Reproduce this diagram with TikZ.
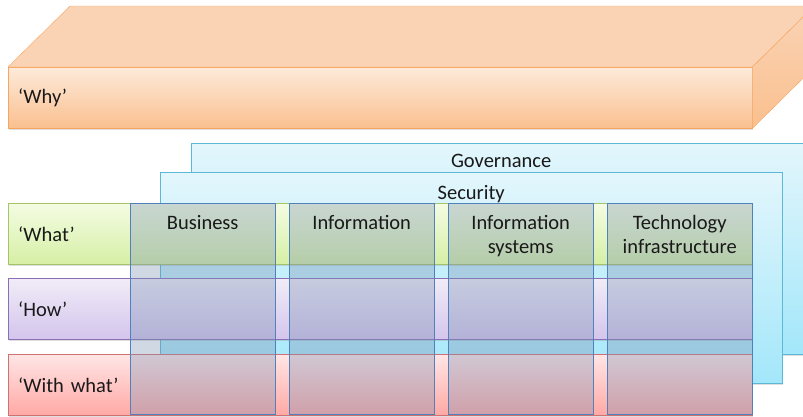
\documentclass[tikz,border=0pt]{standalone}
\usepackage{fontspec}
\setmainfont{Carlito}
\usetikzlibrary{positioning,shadows}

\definecolor{whyline}{HTML}{F7A560}
\definecolor{whytop}{HTML}{FDEADA}
\definecolor{whybot}{HTML}{FAC08F}
\definecolor{whylid}{HTML}{FAD3B5}
\definecolor{whatline}{HTML}{A5C46A}
\definecolor{whattop}{HTML}{F4FCE3}
\definecolor{whatbot}{HTML}{D6EFA5}
\definecolor{howline}{HTML}{8B6FB5}
\definecolor{howtop}{HTML}{F1ECF8}
\definecolor{howbot}{HTML}{D3C5EC}
\definecolor{wwline}{HTML}{D07070}
\definecolor{wwtop}{HTML}{FFE6E6}
\definecolor{wwbot}{HTML}{FFA9A5}
\definecolor{layline}{HTML}{5BB8D6}
\definecolor{laytop}{HTML}{E3F6FC}
\definecolor{laybot}{HTML}{A3E7FA}
\definecolor{colline}{HTML}{4F81BD}
\definecolor{colfill}{HTML}{7990B2}

\begin{document}
\begin{tikzpicture}[x=1pt, y=-1pt]
	\tikzset{txt/.style={font=\fontsize{20.5}{24}\selectfont, text=black!90},
		row/.style={txt, anchor=north west, minimum width=744pt, minimum height=61pt, text width=724pt, inner sep=10pt, align=left, drop shadow={shadow xshift=1pt, shadow yshift=-2pt, opacity=0.25}},
		layer/.style={anchor=north west, draw=layline, top color=laytop, bottom color=laybot, minimum height=211pt, drop shadow={shadow xshift=1pt, shadow yshift=-2pt, opacity=0.25}},
		col/.style={anchor=north west, draw=colline, fill=colfill, fill opacity=0.35, minimum width=145pt, minimum height=211pt, inner sep=0pt},
		coltxt/.style={txt, align=center, inner sep=0pt}}

	\useasboundingbox (0,0) rectangle (803,416);
	\clip (0,0) rectangle (803,416);

	% the 'why' slab
	\node[row, draw=whyline, top color=whytop, bottom color=whybot] (why) at (8,67) {`Why'};
	\filldraw[draw=whyline, fill=whylid] (why.north west) -- ++(62,-61) -- ++(744,0) -- (why.north east) -- cycle;
	\draw[draw=whyline, top color=whylid, bottom color=whybot] (why.north east) -- ++(62,-61) -- ++(0,61) -- (why.south east) -- cycle;

	% governance and security layers
	\node[layer, minimum width=620pt] (gov) at (191,143) {};
	\node[txt, below=8pt of gov.north] (govtxt) {Governance};
	\node[layer, minimum width=622pt] (sec) at (160,172) {};
	\node[txt, below=10pt of sec.north] (sectxt) {Security};

	% rows
	\node[row, draw=whatline, top color=whattop, bottom color=whatbot] (what) at (8,203) {`What'};
	\node[row, draw=howline, top color=howtop, bottom color=howbot] (how) at (8,278) {`How'};
	\node[row, draw=wwline, top color=wwtop, bottom color=wwbot] (withwhat) at (8,354) {`With what'};

	% columns
	\node[col] (bus) at (130,203) {};
	\node[col] (inf) at (289,203) {};
	\node[col] (infsys) at (448,203) {};
	\node[col] (tech) at (607,203) {};

	\node[coltxt, below=12pt of bus.north] (bustxt) {Business};
	\node[coltxt, below=12pt of inf.north] (inftxt) {Information};
	\node[coltxt, below=12pt of infsys.north] (infsystxt) {Information\\systems};
	\node[coltxt, below=12pt of tech.north] (techtxt) {Technology\\infrastructure};
\end{tikzpicture}
\end{document}
